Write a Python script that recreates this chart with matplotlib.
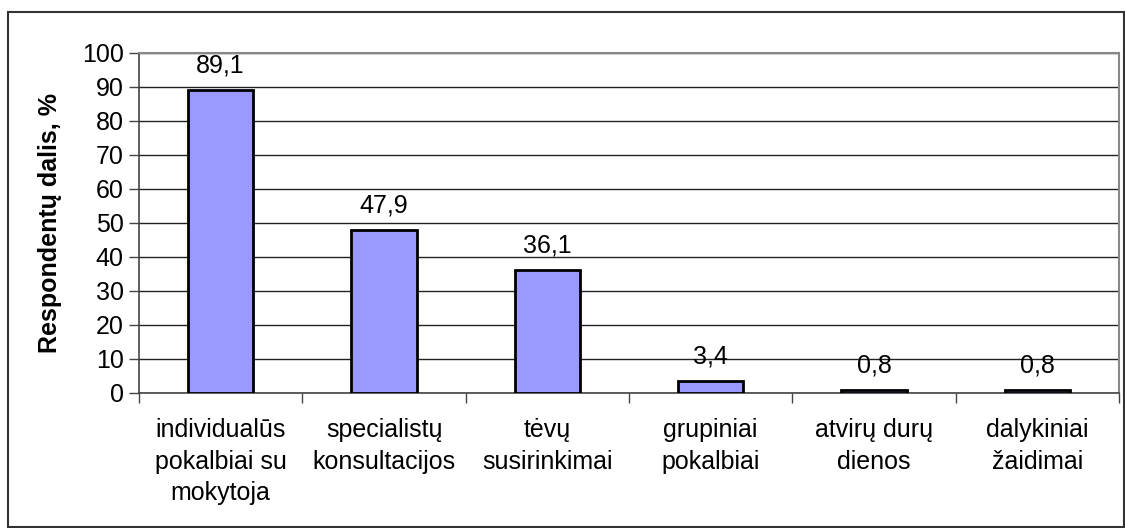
import matplotlib.pyplot as plt
from matplotlib.patches import Rectangle

plt.rcParams['font.family'] = ['Liberation Sans', 'DejaVu Sans']

categories = ["individualūs\npokalbiai su\nmokytoja", "specialistų\nkonsultacijos",
              "tėvų\nsusirinkimai", "grupiniai\npokalbiai", "atvirų durų\ndienos",
              "dalykiniai\nžaidimai"]
values = [89.1, 47.9, 36.1, 3.4, 0.8, 0.8]
value_labels = ["89,1", "47,9", "36,1", "3,4", "0,8", "0,8"]

W, H = 1125, 528
fig = plt.figure(figsize=(W / 100, H / 100), dpi=100)
fig.patches.append(Rectangle((8 / W, 1 / H), 1116 / W, 515 / H, transform=fig.transFigure,
                             fill=False, edgecolor='#333333', linewidth=1.5))
ax = fig.add_axes([139 / W, (H - 393) / H, 980 / W, 340 / H])

x = list(range(len(values)))
ax.bar(x, values, width=0.4, color='#9999FF', edgecolor='black', linewidth=2, zorder=3)
for xi, v, lab in zip(x, values, value_labels):
    ax.annotate(lab, (xi, v), xytext=(0, 13), textcoords='offset points',
                ha='center', va='baseline', fontsize=18, zorder=4)

ax.set_xlim(-0.5, len(values) - 0.5)
ax.set_ylim(0, 100)
ax.set_yticks(range(0, 101, 10))
ax.yaxis.grid(True, color='#222222', linewidth=1, zorder=0)
ax.set_xticks([i - 0.5 for i in range(len(values) + 1)])
ax.set_xticklabels([])
ax.set_xticks(x, minor=True)
ax.set_xticklabels(categories, minor=True, fontsize=18, linespacing=1.4)
ax.tick_params(axis='x', which='minor', length=0, pad=18)
ax.tick_params(axis='x', which='major', length=7, width=1, color='#444444')
ax.tick_params(axis='y', length=7, width=1, color='#444444', labelsize=18, pad=4)

for s in ['top', 'right']:
    ax.spines[s].set_color('#888888')
    ax.spines[s].set_linewidth(1.5)
ax.spines['left'].set_color('#444444')
ax.spines['bottom'].set_color('#444444')
ax.spines['left'].set_linewidth(1.2)
ax.spines['bottom'].set_linewidth(1.2)

fig.text(50 / W, 1 - 223 / H, "Respondentų dalis, %", rotation=90, ha='center', va='center',
         fontsize=18, fontweight='bold')

fig.savefig('out.png', dpi=100)
